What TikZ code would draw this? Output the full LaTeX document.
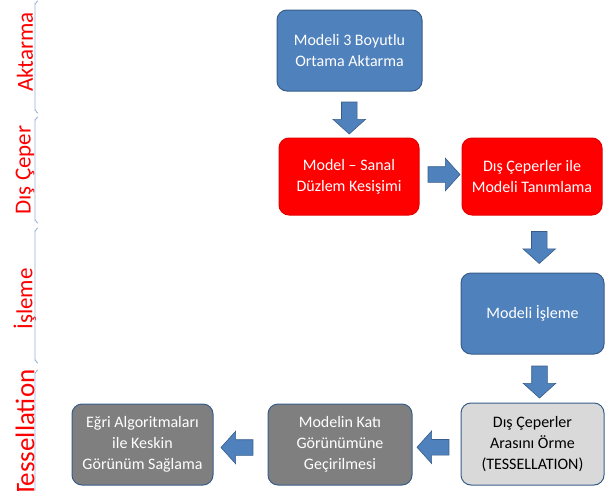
\documentclass[tikz,border=0pt]{standalone}
\usepackage{fontspec}
\setmainfont{Carlito}
\definecolor{officeBlue}{RGB}{79,129,189}
\definecolor{officeLine}{RGB}{56,93,138}
\definecolor{officeRed}{RGB}{255,0,0}
\definecolor{officeGray}{RGB}{127,127,127}
\definecolor{officeLight}{RGB}{217,217,217}
\definecolor{braceBlue}{RGB}{149,179,215}
\usetikzlibrary{arrows.meta,positioning,shapes.arrows}

\begin{document}
\begin{tikzpicture}[x=1pt, y=-1pt,
  box/.style={rectangle, rounded corners=10pt, draw=officeLine, line width=1pt,
              align=center, text=white, font=\fontsize{16}{21}\selectfont},
  bluebox/.style={box, fill=officeBlue},
  redbox/.style={box, fill=officeRed, draw=officeRed!90!black},
  graybox/.style={box, fill=officeGray},
  lightbox/.style={box, fill=officeLight, text=black},
  blockarrow/.style={single arrow, fill=officeBlue, draw=officeLine, line width=0.6pt,
              inner xsep=0pt, inner ysep=7.5pt, single arrow head extend=8.5pt,
              single arrow tip angle=96, minimum height=32pt},
  stage/.style={rotate=90, text=officeRed, font=\fontsize{23}{23}\selectfont},
  brace/.style={draw=braceBlue, line width=0.8pt}]
  \useasboundingbox (0,0) rectangle (613,490);

  % stage labels on the left
  \node[stage] (lblA) at (25,52) {Aktarma};
  \node[stage] (lblB) at (25,170) {Dış Çeper};
  \node[stage] (lblC) at (25,299) {İşleme};
  \node[stage, anchor=east, font=\fontsize{27}{27}\selectfont] (lblD) at (25,366) {Tessellation};
  \draw[brace] (38,1) to[out=180,in=-90] (35,4) -- (35,110) to[out=90,in=180] (38,113);
  \draw[brace] (38,117) to[out=180,in=-90] (35,120) -- (35,220) to[out=90,in=180] (38,223);
  \draw[brace] (38,228) to[out=180,in=-90] (35,231) -- (35,360) to[out=90,in=180] (38,363);
  \draw[brace] (38,370) to[out=180,in=-90] (35,373) -- (35,495);

  % flow boxes
  \node[bluebox, minimum width=145pt, minimum height=81pt]
    (aktar) at (349.5,50.5) {Modeli 3 Boyutlu\\Ortama Aktarma};
  \node[redbox, minimum width=140pt, minimum height=77pt]
    (kesis) at (349,176.5) {Model -- Sanal\\Düzlem Kesişimi};
  \node[redbox, minimum width=140pt, minimum height=77pt]
    (tanim) at (532,176.5) {Dış Çeperler ile\\Modeli Tanımlama};
  \node[bluebox, minimum width=143pt, minimum height=81pt]
    (isle) at (532.5,313.5) {Modeli İşleme};
  \node[lightbox, minimum width=143pt, minimum height=82pt]
    (tess) at (532.5,444) {Dış Çeperler\\Arasını Örme\\(TESSELLATION)};
  \node[graybox, minimum width=144pt, minimum height=81pt]
    (kati) at (340,444.5) {Modelin Katı\\Görünümüne\\Geçirilmesi};
  \node[graybox, minimum width=141pt, minimum height=81pt]
    (egri) at (142.5,444.5) {Eğri Algoritmaları\\ile Keskin\\Görünüm Sağlama};

  % block arrows between the boxes
  \path (aktar) -- node[blockarrow, rotate=-90] (ar1) {} (kesis);
  \path ([yshift=2pt]kesis.east) -- node[blockarrow] (ar2) {} ([yshift=2pt]tanim.west);
  \path ([xshift=7pt]tanim.south) -- node[blockarrow, rotate=-90] (ar3) {} ([xshift=7pt]isle.north);
  \path ([xshift=7pt]isle.south) -- node[blockarrow, rotate=-90] (ar4) {} ([xshift=7pt]tess.north);
  \path ([yshift=-3pt]tess.west) -- node[blockarrow, rotate=180] (ar5) {} ([yshift=-3pt]kati.east);
  \path ([yshift=-3pt]kati.west) -- node[blockarrow, rotate=180] (ar6) {} ([yshift=-3pt]egri.east);
\end{tikzpicture}
\end{document}
